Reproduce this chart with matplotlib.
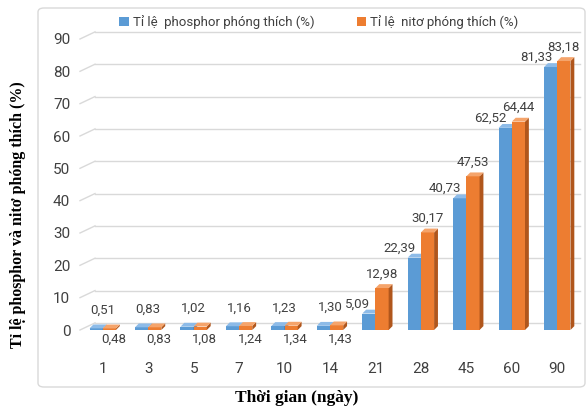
import matplotlib.pyplot as plt
import matplotlib.patches as mpatches
from matplotlib.transforms import blended_transform_factory
import numpy as np

days = ["1", "3", "5", "7", "10", "14", "21", "28", "45", "60", "90"]
phosphor = [0.51, 0.83, 1.02, 1.16, 1.23, 1.30, 5.09, 22.39, 40.73, 62.52, 81.33]
nitrogen = [0.48, 0.83, 1.08, 1.24, 1.34, 1.43, 12.98, 30.17, 47.53, 64.44, 83.18]
yticks = [0, 10, 20, 30, 40, 50, 60, 70, 80, 90]
legendNames = ["Tỉ lệ  phosphor phóng thích (%)", "Tỉ lệ  nitơ phóng thích (%)"]

sansFont = ["Roboto", "DejaVu Sans"]
serifFont = ["Liberation Serif", "DejaVu Serif"]
textColor = "#404040"
blue = ("#5b9bd5", "#3d70a3", "#8dbbe8") #front, side, top
orange = ("#ed7d31", "#b0561c", "#f5a46b")

def fmt(v):
    return ("%.2f" % v).replace(".", ",")

W, H = 587, 412
fig = plt.figure(figsize=(W / 100, H / 100), dpi=100)
# chart area border
fig.patches.append(mpatches.FancyBboxPatch((38 / W, 1 - 387 / H), 547 / W, 379 / H,
    boxstyle="round,pad=0,rounding_size=0.01", transform=fig.transFigure,
    fc="none", ec="#d9d9d9", lw=1))

ax = fig.add_axes([80 / W, 1 - 330 / H, 500 / W, 291 / H])
x = np.arange(len(days))
w = 0.29
dx, dy = 0.085, 1.2 #fake 3d depth in data units
ax.set_xlim(-0.5, len(days) - 0.5)
ax.set_ylim(0, 90)

# back wall gridlines with slanted floor stub
tr = blended_transform_factory(ax.transAxes, ax.transData)
back = 2.2
for t in yticks:
    ax.plot([0.03, 1.0], [t + back, t + back], color="#d9d9d9", lw=1, transform=tr, zorder=1, clip_on=False)
    ax.plot([0.0, 0.03], [t, t + back], color="#d9d9d9", lw=1, transform=tr, zorder=1, clip_on=False)

def bar3d(xs, vals, cols, label):
    bars = ax.bar(xs, vals, w, color=cols[0], zorder=3, label=label)
    for b in bars:
        x0 = b.get_x()
        x1 = x0 + b.get_width()
        h = b.get_height()
        ax.add_patch(mpatches.Polygon([(x1, 0), (x1 + dx, dy), (x1 + dx, h + dy), (x1, h)],
                                      fc=cols[1], ec="none", zorder=3))
        ax.add_patch(mpatches.Polygon([(x0, h), (x0 + dx, h + dy), (x1 + dx, h + dy), (x1, h)],
                                      fc=cols[2], ec="none", zorder=3))
    return bars

bar3d(x - w / 2, phosphor, blue, legendNames[0])
bar3d(x + w / 2, nitrogen, orange, legendNames[1])

for i in range(len(days)):
    if nitrogen[i] < 3:
        ax.annotate(fmt(phosphor[i]), (x[i], phosphor[i]), xytext=(0, 13), textcoords="offset points",
                    ha="center", va="center", fontsize=9.5, color=textColor, family=sansFont)
        ax.annotate(fmt(nitrogen[i]), (x[i] + w / 2, 0), xytext=(3, -7), textcoords="offset points",
                    ha="center", va="center", fontsize=9.5, color=textColor, family=sansFont)
    else:
        ax.annotate(fmt(phosphor[i]), (x[i] - w / 2, phosphor[i]), xytext=(1, 7), textcoords="offset points",
                    ha="right", va="center", fontsize=9.5, color=textColor, family=sansFont)
        ax.annotate(fmt(nitrogen[i]), (x[i] + w / 2, nitrogen[i]), xytext=(0, 10), textcoords="offset points",
                    ha="center", va="center", fontsize=9.5, color=textColor, family=sansFont)

ax.set_xticks(x, days)
ax.set_yticks(yticks)
ax.tick_params(axis="x", length=0, pad=23, labelsize=11, colors=textColor)
ax.tick_params(axis="y", length=0, pad=7, labelsize=11, colors=textColor)
for lab in ax.get_xticklabels() + ax.get_yticklabels():
    lab.set_family(sansFont)
for s in ax.spines.values():
    s.set_visible(False)

fig.legend(loc="center", bbox_to_anchor=(0.543, 1 - 22 / H), ncol=2, frameon=False,
           handlelength=0.7, handleheight=0.7, handletextpad=0.3, columnspacing=3.2,
           prop={"family": sansFont, "size": 9.5}, labelcolor=textColor)

fig.text(18 / W, 1 - 215 / H, "Tỉ lệ phosphor và nitơ phóng thích (%)", rotation=90,
         ha="center", va="center", fontsize=11.5, fontweight="bold", family=serifFont)
fig.text(297 / W, 1 - 398 / H, "Thời gian (ngày)", ha="center", va="center",
         fontsize=12.5, fontweight="bold", family=serifFont)

fig.savefig("out.png", dpi=100)
